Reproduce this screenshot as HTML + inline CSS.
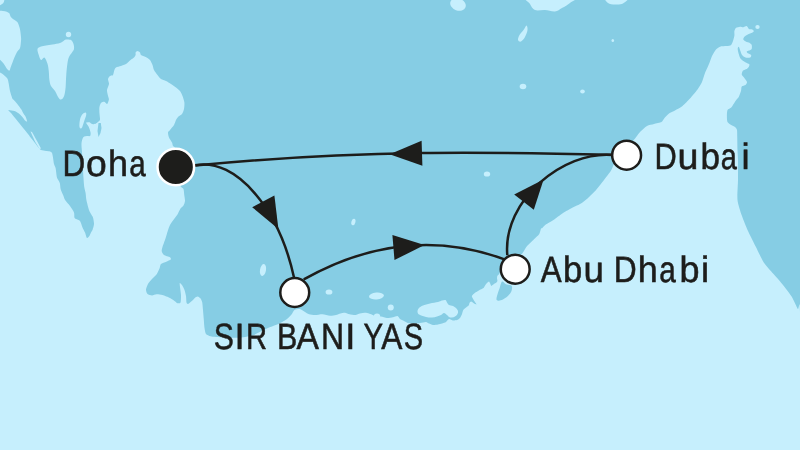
<!DOCTYPE html>
<html><head><meta charset="utf-8"><style>
html,body{margin:0;padding:0;background:#c6effd;}
body{width:800px;height:450px;overflow:hidden;}
svg{display:block;}
text{font-family:"Liberation Sans",sans-serif;font-size:36.5px;fill:#1d1d1b;stroke:#1d1d1b;stroke-width:0.55px;text-rendering:geometricPrecision;will-change:transform;}
</style></head><body>
<svg width="800" height="450" viewBox="0 0 800 450">
<rect width="800" height="450" fill="#86cde4"/>
<path fill="#c6effd" d="M-5 450 C-98.92 405.9 -5.58 116.04 -5 72 C-4.42 27.96 -1.02 72.15 0 72.5 C1.02 72.85 2.88 74.27 3.75 75 C4.62 75.73 6.92 77.73 7.5 78.75 C8.08 79.77 8.46 82.32 8.75 83.75 C9.04 85.18 9.56 89.25 10 91 C10.44 92.75 12.04 97.7 12.5 98.75 C12.96 99.8 13.41 99.47 13.9 100 C14.39 100.53 16.06 102.52 16.7 103.3 C17.34 104.08 18.82 105.92 19.4 106.7 C19.98 107.48 21.24 109.23 21.7 110 C22.16 110.77 22.84 112.52 23.3 113.3 C23.76 114.08 25.15 115.74 25.6 116.7 C26.05 117.66 27.27 121.06 27.2 121.5 C27.13 121.94 25.39 120.8 25 120.5 C24.61 120.2 24.48 119.61 23.9 118.9 C23.32 118.19 21.11 115.31 20 114.4 C18.89 113.49 15.77 111.61 14.4 111.1 C13.04 110.59 8.56 109.61 8.3 110 C8.04 110.39 11.22 113.23 12.2 114.4 C13.18 115.57 15.66 118.69 16.7 120 C17.74 121.31 20.06 124.3 21.1 125.6 C22.14 126.89 24.56 129.81 25.6 131.1 C26.64 132.39 28.97 135.41 30 136.7 C31.03 137.99 33.49 141.03 34.4 142.2 C35.31 143.37 37.03 145.79 37.8 146.7 C38.57 147.61 40.04 149.5 41 150 C41.96 150.5 44.95 150.82 46 151 C47.05 151.18 49.3 151.27 50 151.5 C50.7 151.73 51.65 152.3 52 153 C52.35 153.7 52.77 156.22 53 157.5 C53.23 158.78 53.7 162.78 54 164 C54.3 165.22 55.31 166.72 55.6 168 C55.89 169.28 56.33 173.83 56.5 175 C56.67 176.17 56.72 177.07 57.1 178 C57.48 178.93 59.38 181.68 59.8 183 C60.22 184.32 60.29 187.83 60.7 189.3 C61.11 190.77 62.79 194.35 63.3 195.6 C63.81 196.85 64.32 198.79 65.1 200 C65.88 201.21 68.96 204.54 70 206 C71.04 207.46 73.49 211.16 74 212.5 C74.51 213.84 74.17 216.74 74.4 217.5 C74.63 218.26 75.35 218.59 76 219 C76.65 219.41 79.24 220.01 80 221 C80.76 221.99 81.92 226.16 82.5 227.5 C83.08 228.84 84.47 231.28 85 232.5 C85.53 233.72 86.49 237.59 87 238 C87.51 238.41 88.93 236.64 89.4 236 C89.87 235.36 90.64 233.2 91 232.5 C91.36 231.8 92.15 230.99 92.5 230 C92.85 229.01 93.94 225.46 94 224 C94.06 222.54 93.35 218.67 93 217.5 C92.65 216.33 91.47 214.88 91 214 C90.53 213.12 89.54 211.63 89 210 C88.46 208.37 86.8 201.98 86.4 200 C86 198.02 85.86 194.55 85.6 193 C85.34 191.45 84.45 188.45 84.2 186.7 C83.95 184.95 83.67 180.53 83.5 178 C83.33 175.47 82.88 168.03 82.7 165 C82.53 161.97 82.14 154.22 82 152 C81.86 149.78 81.53 147.2 81.5 146 C81.47 144.8 81.49 142.73 81.7 141.7 C81.91 140.67 82.72 137.85 83.3 137.2 C83.88 136.55 85.92 136.23 86.7 136.1 C87.48 135.97 89.55 136.48 90 136.1 C90.45 135.72 90.73 133.84 90.6 132.8 C90.47 131.76 89.43 128.37 88.9 127.2 C88.38 126.03 86.04 123.38 86.1 122.8 C86.16 122.22 88.69 122.05 89.4 122.2 C90.11 122.35 91.48 123.92 92.2 124.1 C92.92 124.27 94.86 124 95.6 123.7 C96.33 123.4 97.99 122 98.5 121.5 C99.01 121 99.89 120.42 100 119.4 C100.11 118.39 99.47 114.22 99.4 112.8 C99.33 111.38 99.2 108.37 99.4 107.2 C99.6 106.03 100.52 103.44 101.1 102.8 C101.68 102.16 103.69 101.57 104.4 101.7 C105.11 101.83 106.67 104.17 107.2 103.9 C107.73 103.63 108.83 100.44 108.9 99.4 C108.97 98.36 108.02 96.1 107.8 95 C107.58 93.9 106.86 91.28 107 90 C107.14 88.72 108.88 85.28 109 84 C109.12 82.72 107.88 79.93 108 79 C108.12 78.07 109.42 76.47 110 76 C110.58 75.53 112.49 75.7 113 75 C113.51 74.3 114.05 70.88 114.4 70 C114.75 69.12 115.23 67.97 116 67.5 C116.77 67.03 119.83 66.41 121 66 C122.17 65.59 124.88 64.7 126 64 C127.12 63.3 129.67 60.76 130.6 60 C131.53 59.24 133.42 58.08 134 57.5 C134.58 56.92 135.41 55.58 135.6 55 C135.79 54.42 135.38 52.97 135.6 52.5 C135.82 52.03 136.99 51 137.5 51 C138.01 51 139.59 52.03 140 52.5 C140.41 52.97 140.35 54.48 141 55 C141.65 55.52 144.55 56.42 145.6 57 C146.65 57.58 149.19 59.07 150 60 C150.81 60.93 152.03 63.83 152.5 65 C152.97 66.17 153.42 68.83 154 70 C154.58 71.17 156.68 73.95 157.5 75 C158.32 76.05 160.01 78.3 161 79 C161.99 79.7 164.83 80.42 166 81 C167.17 81.58 169.83 83.24 171 84 C172.17 84.76 174.95 86.68 176 87.5 C177.05 88.32 179.24 90.01 180 91 C180.76 91.99 181.99 94.66 182.5 96 C183.01 97.34 184.22 100.98 184.4 102.5 C184.58 104.02 184.28 107.66 184 109 C183.72 110.34 182.7 113.07 182 114 C181.3 114.93 178.7 116.3 178 117 C177.3 117.7 176.47 119.07 176 120 C175.53 120.93 174.7 123.83 174 125 C173.3 126.17 170.7 129.12 170 130 C169.3 130.88 168.12 131.62 168 132.5 C167.88 133.38 168.53 136.33 169 137.5 C169.47 138.67 171.53 141.51 172 142.5 C172.47 143.49 172.65 145.36 173 146 C173.35 146.64 174.42 146.37 175 148 C175.58 149.63 177.53 156.85 178 160 C178.47 163.15 178.71 171.97 179 175 C179.29 178.03 179.97 184.37 180.5 186 C181.03 187.63 183.06 187.95 183.5 189 C183.94 190.05 184.07 193.6 184.25 195 C184.43 196.4 185.09 199.78 185 201 C184.91 202.22 184.03 204.62 183.5 205.5 C182.97 206.38 181.2 207.45 180.5 208.5 C179.8 209.55 178.38 213.1 177.5 214.5 C176.62 215.9 173.88 219.28 173 220.5 C172.12 221.72 170.61 223.78 170 225 C169.39 226.22 168.28 229.43 167.75 231 C167.22 232.57 166.11 236.63 165.5 238.5 C164.89 240.37 162.94 245.51 162.5 247 C162.06 248.49 161.57 250.32 161.75 251.25 C161.93 252.18 163.04 254.3 164 255 C164.96 255.7 169.21 256.73 170 257.25 C170.79 257.77 171.19 258.98 170.75 259.5 C170.31 260.02 167.39 261.23 166.25 261.75 C165.11 262.27 161.79 263.21 161 264 C160.21 264.79 160.03 267.27 159.5 268.5 C158.97 269.73 157.38 273.27 156.5 274.5 C155.62 275.73 152.96 277.95 152 279 C151.04 280.05 148.95 282.27 148.25 283.5 C147.55 284.73 146.09 288.27 146 289.5 C145.91 290.73 146.8 293.3 147.5 294 C148.2 294.7 150.95 295.46 152 295.5 C153.05 295.54 155.28 294.36 156.5 294.3 C157.72 294.24 160.93 294.57 162.5 295 C164.07 295.43 168.6 297.3 170 298 C171.4 298.7 173.62 300.39 174.5 301 C175.38 301.61 176.8 303.07 177.5 303.25 C178.2 303.43 180.09 303.46 180.5 302.5 C180.91 301.54 181.06 296.81 181 295 C180.94 293.19 180.15 288.4 180 287 C179.85 285.6 179.52 283.23 179.75 283 C179.98 282.77 181.45 284.18 182 285 C182.55 285.82 184.03 288.72 184.5 290 C184.97 291.28 185.77 294.54 186 296 C186.23 297.46 186.27 301.57 186.5 302.5 C186.73 303.43 187.59 304 188 304 C188.41 304 189.42 302.97 190 302.5 C190.58 302.03 192.45 300.52 193 300 C193.55 299.48 194.2 298.41 194.75 298 C195.3 297.59 197.05 296.41 197.75 296.5 C198.45 296.59 200.22 298.05 200.75 298.75 C201.28 299.45 201.99 301.19 202.25 302.5 C202.51 303.81 202.82 308.07 203 310 C203.18 311.93 203.57 316.9 203.75 319 C203.93 321.1 204.24 326.25 204.5 328 C204.76 329.75 205.3 333.04 206 334 C206.7 334.96 209.28 335.9 210.5 336.25 C211.72 336.6 213.35 336.82 216.5 337 C219.65 337.18 233.3 337.93 237.5 337.75 C241.7 337.57 249.35 336.46 252.5 335.5 C255.65 334.54 262.23 330.55 264.5 329.5 C266.77 328.45 270.25 327.2 272 326.5 C273.75 325.8 277.75 324.38 279.5 323.5 C281.25 322.62 285.6 320.05 287 319 C288.4 317.95 290.62 315.55 291.5 314.5 C292.38 313.45 293.62 310.64 294.5 310 C295.38 309.36 298.12 309 299 309 C299.88 309 301.3 309.65 302 310 C302.7 310.35 304.18 311.5 305 312 C305.82 312.5 307.83 313.9 309 314.25 C310.17 314.6 313.43 315 315 315 C316.57 315 320.75 314.16 322.5 314.25 C324.25 314.34 328.43 315.66 330 315.75 C331.57 315.84 334.77 315.26 336 315 C337.23 314.74 339.45 313.76 340.5 313.5 C341.55 313.24 343.95 312.66 345 312.75 C346.05 312.84 348.27 313.99 349.5 314.25 C350.73 314.51 354.27 315.09 355.5 315 C356.73 314.91 358.77 313.76 360 313.5 C361.23 313.24 364.77 312.69 366 312.75 C367.23 312.81 369.33 313.56 370.5 314 C371.67 314.44 374.77 316.21 376 316.5 C377.23 316.79 379.72 316.32 381 316.5 C382.28 316.68 385.6 317.91 387 318 C388.4 318.09 391.77 317.48 393 317.25 C394.23 317.02 396.68 315.8 397.5 316 C398.32 316.2 399.24 318.42 400 319 C400.76 319.58 403.07 320.53 404 321 C404.93 321.47 406.95 322.71 408 323 C409.05 323.29 411.6 323.5 413 323.5 C414.4 323.5 418.48 323.18 420 323 C421.52 322.82 424.95 321.94 426 322 C427.05 322.06 428.18 323.15 429 323.5 C429.82 323.85 431.95 324.88 433 325 C434.05 325.12 436.95 324.68 438 324.5 C439.05 324.32 441.07 323.79 442 323.5 C442.93 323.21 445.18 322.52 446 322 C446.82 321.48 448.18 319.18 449 319 C449.82 318.82 452.07 320.38 453 320.5 C453.93 320.62 456.18 320.29 457 320 C457.82 319.71 459.42 318.7 460 318 C460.58 317.3 461.62 314.93 462 314 C462.38 313.07 462.79 310.78 463.3 310 C463.81 309.22 465.76 307.85 466.4 307.3 C467.04 306.75 468.44 305.8 468.8 305.3 C469.16 304.8 469.23 303.44 469.5 303 C469.77 302.56 470.65 301.5 471.1 301.5 C471.56 301.5 472.77 302.65 473.4 303 C474.03 303.35 476.31 304.62 476.5 304.5 C476.69 304.38 475.44 302.74 475 302 C474.56 301.26 473.06 298.91 472.7 298.2 C472.34 297.49 471.63 296.53 471.9 295.9 C472.17 295.27 474.18 293.44 475 292.8 C475.82 292.16 477.91 290.95 478.9 290.4 C479.89 289.85 482.78 288.67 483.5 288.1 C484.22 287.53 484.67 286.12 485.1 285.5 C485.53 284.88 486.75 283.28 487.2 282.8 C487.65 282.32 488.64 281.29 489 281.4 C489.36 281.5 490.04 283.18 490.3 283.7 C490.56 284.22 490.93 285.75 491.2 285.9 C491.47 286.05 492.24 285.26 492.6 285 C492.96 284.74 493.89 283.96 494.3 283.7 C494.71 283.44 495.74 283.12 496.1 282.8 C496.46 282.49 497.29 281.52 497.4 281 C497.5 280.48 497 278.92 497 278.3 C497 277.68 497.14 276.21 497.4 275.7 C497.66 275.19 498.66 274.8 499.2 273.9 C499.74 273 500.97 269.86 502 268 C503.03 266.14 506.48 259.4 508 258 C509.52 256.6 513.41 256.43 515 256 C516.59 255.57 520.21 255.43 521.6 254.3 C522.99 253.17 525.45 248.06 526.9 246.3 C528.35 244.54 532.55 240.65 534 239.2 C535.45 237.75 538.48 235.14 539.3 233.9 C540.12 232.66 540.68 229.26 541 228.6 C541.32 227.94 541.48 228.7 542 228.25 C542.52 227.8 544.07 225.77 545.5 224.75 C546.93 223.73 552.41 220.72 554.25 219.5 C556.09 218.28 559.41 215.47 561.25 214.25 C563.09 213.03 567.75 210.22 570 209 C572.25 207.78 578.46 204.97 580.5 203.75 C582.54 202.53 585.66 200.13 587.5 198.5 C589.34 196.87 594.41 191.79 596.25 189.75 C598.09 187.71 601.82 182.84 603.25 181 C604.68 179.16 607.48 175.43 608.5 174 C609.52 172.57 610.66 171.55 612 168.75 C613.34 165.95 617.67 153.12 620 150 C622.33 146.88 629.67 144.1 632 142 C634.33 139.9 638.25 133.87 640 132 C641.75 130.13 645.37 126.93 647 126 C648.63 125.07 652.31 124.47 654 124 C655.69 123.53 660.27 122.7 661.5 122 C662.73 121.3 663.62 118.99 664.5 118 C665.38 117.01 667.77 114.38 669 113.5 C670.23 112.62 673.42 111.38 675 110.5 C676.58 109.62 680.75 107.4 682.5 106 C684.25 104.6 688.25 100.42 690 98.5 C691.75 96.58 696.1 91.42 697.5 89.5 C698.9 87.58 701.12 83.92 702 82 C702.88 80.08 704.18 75.1 705 73 C705.82 70.9 708.18 65.98 709 64 C709.82 62.02 711.18 57.69 712 56 C712.82 54.31 715.07 50.59 716 49.5 C716.93 48.41 718.75 47.1 720 46.7 C721.25 46.3 725.41 46.3 726.7 46.1 C728 45.9 730.33 45.71 731.1 45 C731.87 44.29 732.91 41.1 733.3 40 C733.68 38.9 734.27 36.64 734.4 35.6 C734.53 34.56 734.2 32.01 734.4 31.1 C734.6 30.19 735.45 28.31 736.1 27.8 C736.75 27.29 739.16 26.77 740 26.7 C740.84 26.63 742.52 27.27 743.3 27.2 C744.08 27.13 746.05 25.9 746.7 26.1 C747.35 26.3 748.26 28.52 748.9 28.9 C749.54 29.28 751.62 29.14 752.2 29.4 C752.78 29.66 753.9 30.7 753.9 31.1 C753.9 31.5 752.91 32.41 752.2 32.8 C751.49 33.18 748.71 33.95 747.8 34.4 C746.89 34.85 744.92 36.12 744.4 36.7 C743.88 37.28 743.1 38.82 743.3 39.4 C743.5 39.98 745.39 41.3 746.1 41.7 C746.81 42.1 748.75 42.41 749.4 42.8 C750.05 43.18 751.43 44.29 751.7 45 C751.97 45.71 752.03 48.25 751.7 48.9 C751.37 49.55 749.48 50.27 748.9 50.6 C748.32 50.93 746.83 51.39 746.7 51.7 C746.57 52.02 747.29 52.91 747.8 53.3 C748.31 53.68 750.77 54.55 751.1 55 C751.43 55.45 751.06 56.87 750.6 57.2 C750.14 57.53 747.98 57.86 747.2 57.8 C746.42 57.74 744.54 57.1 743.9 56.7 C743.26 56.3 742.11 55.06 741.7 54.4 C741.29 53.73 740.69 51.8 740.4 51 C740.11 50.2 739.45 48 739.2 47.5 C738.96 47 738.47 46.53 738.3 46.7 C738.12 46.88 737.67 48.21 737.7 49 C737.74 49.79 738.3 52.41 738.6 53.5 C738.9 54.59 739.75 57.41 740.3 58.3 C740.85 59.19 742.49 60.52 743.3 61.1 C744.11 61.68 746.49 62.91 747.2 63.3 C747.91 63.68 749.2 64 749.4 64.4 C749.6 64.8 749.21 66.17 748.9 66.7 C748.59 67.23 747.39 68.46 746.7 68.9 C746.01 69.34 743.58 69.85 743 70.5 C742.42 71.15 741.63 73.68 741.75 74.5 C741.87 75.32 743.39 76.62 744 77.5 C744.61 78.38 746.83 81.12 747 82 C747.17 82.88 746.11 84.47 745.5 85 C744.89 85.53 742.27 85.8 741.75 86.5 C741.23 87.2 741.35 89.78 741 91 C740.65 92.22 739.3 95.95 738.75 97 C738.2 98.05 736.83 99.21 736.25 100 C735.67 100.79 734.33 102.88 733.75 103.75 C733.17 104.62 731.98 106.77 731.25 107.5 C730.52 108.23 728.01 109.01 727.5 110 C726.99 110.99 726.9 114.6 726.9 116 C726.9 117.4 726.99 120.95 727.5 122 C728.01 123.05 730.38 124.42 731.25 125 C732.12 125.58 734.33 126.42 735 127 C735.67 127.58 736.74 128.78 737 130 C737.26 131.22 737.19 135.17 737.25 137.5 C737.31 139.83 737.41 147.38 737.5 150 C737.59 152.62 737.94 156.5 738 160 C738.06 163.5 738.06 175.33 738 180 C737.94 184.67 737.06 195.86 737.5 200 C737.94 204.14 740.57 211.88 741.8 215.5 C743.02 219.12 746.37 227.36 748 231 C749.63 234.64 753.98 243.06 755.8 246.7 C757.62 250.34 761.79 259.29 763.6 262.2 C765.41 265.11 769.13 269.06 771.3 271.6 C773.47 274.14 779.83 281.1 782.2 284 C784.57 286.9 789.78 293.58 791.6 296.5 C793.42 299.42 796.82 307.19 797.8 309 C798.78 310.81 799.74 295.55 800 312 C800.26 328.45 893.92 433.9 800 450 C706.08 466.1 88.92 494.1 -5 450Z"/>
<path fill="#c6effd" d="M-6 10.6 C-5.33 3.05 -3.5 10.63 -2 10.7 C-0.5 10.77 1.55 10.83 3 11 C4.45 11.17 5.65 11.32 6.7 11.7 C7.75 12.08 8.63 12.47 9.3 13.3 C9.97 14.13 10.03 15.7 10.7 16.7 C11.37 17.7 12.2 18.42 13.3 19.3 C14.4 20.18 16.3 20.77 17.3 22 C18.3 23.23 18.8 25.2 19.3 26.7 C19.8 28.2 20.02 29.28 20.3 31 C20.58 32.72 20.88 35.33 21 37 C21.12 38.67 21.17 39.17 21 41 C20.83 42.83 20.67 46.17 20 48 C19.33 49.83 17.93 50.42 17 52 C16.07 53.58 15.15 55.75 14.4 57.5 C13.65 59.25 13.13 60.83 12.5 62.5 C11.87 64.17 11.12 66.15 10.6 67.5 C10.08 68.85 10.02 70.39 9.4 70.6 C8.78 70.81 7.84 69.89 6.9 68.75 C5.96 67.61 5.23 65.54 3.75 63.75 C2.27 61.96 -0.38 59.29 -2 58 C-3.62 56.71 -5.33 63.9 -6 56 C-6.67 48.1 -6.67 18.15 -6 10.6Z"/>
<path fill="#c6effd" d="M-2 -2 C-1 -3.17 3.07 -2.77 4 -2 C4.93 -1.23 4.1 1.47 3.6 2.6 C3.1 3.73 1.93 4.4 1 4.8 C0.07 5.2 -1.5 6.13 -2 5 C-2.5 3.87 -3 -0.83 -2 -2Z"/>
<path fill="#c6effd" d="M37.5 49 C37.88 47.58 39.58 47.08 41 46.5 C42.42 45.92 44.08 45.83 46 45.5 C47.92 45.17 50.17 44.92 52.5 44.5 C54.83 44.08 58.17 43.58 60 43 C61.83 42.42 62.5 41.58 63.5 41 C64.5 40.42 64.75 39.67 66 39.5 C67.25 39.33 69.75 39.25 71 40 C72.25 40.75 73 42.5 73.5 44 C74 45.5 74.25 47.58 74 49 C73.75 50.42 72.83 51.17 72 52.5 C71.17 53.83 69.75 55.25 69 57 C68.25 58.75 67.96 60 67.5 63 C67.04 66 66.57 70.92 66.25 75 C65.93 79.08 65.91 84.17 65.6 87.5 C65.29 90.83 64.92 93.12 64.4 95 C63.88 96.88 63.23 98.02 62.5 98.75 C61.77 99.48 60.83 99.86 60 99.4 C59.17 98.94 58.33 97.4 57.5 96 C56.67 94.6 56.08 92.67 55 91 C53.92 89.33 51.93 87.83 51 86 C50.07 84.17 49.77 82.5 49.4 80 C49.02 77.5 49.07 73.71 48.75 71 C48.43 68.29 48.23 66 47.5 63.75 C46.77 61.5 45.48 58.12 44.4 57.5 C43.32 56.88 41.94 60.42 41 60 C40.06 59.58 39.33 56.83 38.75 55 C38.17 53.17 37.12 50.42 37.5 49Z"/>
<path fill="#c6effd" d="M30.5 131.5 L32 132 L37 141 L41 148.5 L39.5 149 L35 141.5Z"/>
<path fill="#c6effd" d="M85.6 112.4 C86.27 112.5 86.4 113.63 86.2 115 C86 116.37 85.07 118.57 84.4 120.6 C83.73 122.63 82.87 125.9 82.2 127.2 C81.53 128.5 80.87 128.58 80.4 128.4 C79.93 128.22 79.47 127.6 79.4 126.1 C79.33 124.6 79.53 121.35 80 119.4 C80.47 117.45 81.27 115.57 82.2 114.4 C83.13 113.23 84.93 112.3 85.6 112.4Z"/>
<path fill="#c6effd" d="M528 -3 C520.67 -1.83 528.83 1.83 530 4 C531.17 6.17 532.5 9 535 10 C537.5 11 541.67 9.75 545 10 C548.33 10.25 552.17 11.83 555 11.5 C557.83 11.17 559.5 9.42 562 8 C564.5 6.58 568 4.83 570 3 C572 1.17 581 -2 574 -3 C567 -4 535.33 -4.17 528 -3Z"/>
<path fill="#c6effd" d="M606 -3 C602.67 -2 606.5 1.75 608 3 C609.5 4.25 612.5 4.42 615 4.5 C617.5 4.58 620.83 4.75 623 3.5 C625.17 2.25 630.83 -1.92 628 -3 C625.17 -4.08 609.33 -4 606 -3Z"/>
<path fill="#c6effd" d="M526.5 25.5 C527.17 25.5 527.75 28.08 527.5 30 C527.25 31.92 526.08 35.08 525 37 C523.92 38.92 522.17 41 521 41.5 C519.83 42 518.25 41.08 518 40 C517.75 38.92 518.58 36.67 519.5 35 C520.42 33.33 522.33 31.58 523.5 30 C524.67 28.42 525.83 25.5 526.5 25.5Z"/>
<path fill="#c6effd" d="M417.5 311 C417.67 310.08 418.08 308.92 419 308 C419.92 307.08 421.17 306.25 423 305.5 C424.83 304.75 427.5 304.08 430 303.5 C432.5 302.92 436 302.5 438 302 C440 301.5 440.75 300.83 442 300.5 C443.25 300.17 444.67 299.67 445.5 300 C446.33 300.33 446.42 301.67 447 302.5 C447.58 303.33 448 304.42 449 305 C450 305.58 451.83 305.5 453 306 C454.17 306.5 455.17 307.17 456 308 C456.83 308.83 457.75 310 458 311 C458.25 312 458 313.08 457.5 314 C457 314.92 455.92 315.92 455 316.5 C454.08 317.08 453 317.42 452 317.5 C451 317.58 449.83 317.42 449 317 C448.17 316.58 447.83 315.67 447 315 C446.17 314.33 445 313 444 313 C443 313 442.17 314.42 441 315 C439.83 315.58 438.5 316.08 437 316.5 C435.5 316.92 433.83 317.42 432 317.5 C430.17 317.58 428 317.42 426 317 C424 316.58 421.33 315.58 420 315 C418.67 314.42 418.42 314.17 418 313.5 C417.58 312.83 417.33 311.92 417.5 311Z"/>
<ellipse fill="#c6effd" cx="68.5" cy="34.5" rx="2.7" ry="2.7" transform="rotate(0 68.5 34.5)"/>
<ellipse fill="#c6effd" cx="458" cy="4.5" rx="8" ry="6" transform="rotate(20 458 4.5)"/>
<ellipse fill="#c6effd" cx="523" cy="86.5" rx="3.3" ry="2.8" transform="rotate(0 523 86.5)"/>
<ellipse fill="#c6effd" cx="582.5" cy="91.5" rx="2.3" ry="2" transform="rotate(0 582.5 91.5)"/>
<ellipse fill="#c6effd" cx="487" cy="174" rx="3.2" ry="2.6" transform="rotate(0 487 174)"/>
<ellipse fill="#c6effd" cx="353.4" cy="222" rx="2" ry="3.3" transform="rotate(15 353.4 222)"/>
<ellipse fill="#c6effd" cx="263" cy="270" rx="3" ry="6" transform="rotate(10 263 270)"/>
<ellipse fill="#c6effd" cx="329" cy="292" rx="3.4" ry="2.6" transform="rotate(0 329 292)"/>
<ellipse fill="#c6effd" cx="376.5" cy="296" rx="7.5" ry="3.4" transform="rotate(-5 376.5 296)"/>
<ellipse fill="#c6effd" cx="390.75" cy="307.5" rx="3" ry="3" transform="rotate(0 390.75 307.5)"/>
<ellipse fill="#c6effd" cx="377" cy="316.5" rx="3.2" ry="3" transform="rotate(0 377 316.5)"/>
<ellipse fill="#c6effd" cx="612.8" cy="40.5" rx="1.3" ry="1.6" transform="rotate(0 612.8 40.5)"/>
<ellipse fill="#c6effd" cx="757.5" cy="27" rx="2.2" ry="2" transform="rotate(0 757.5 27)"/>
<path fill="#86cde4" d="M98.5 123 L100.8 123 L101.5 128 L100.5 133 L98.5 137 L97.5 131Z"/>
<path fill="#86cde4" d="M502.3 281.5 C503.18 281.43 504.42 283.55 505.9 284.2 C507.38 284.85 510.17 284.75 511.2 285.4 C512.23 286.05 512.1 287.05 512.1 288.1 C512.1 289.15 511.78 290.52 511.2 291.7 C510.62 292.88 509.78 294.02 508.6 295.2 C507.42 296.38 505.58 297.9 504.1 298.8 C502.62 299.7 500.95 300.45 499.7 300.6 C498.45 300.75 497.05 300.45 496.6 299.7 C496.15 298.95 496.72 297.43 497 296.1 C497.28 294.77 497.85 293.03 498.3 291.7 C498.75 290.37 499.32 289.28 499.7 288.1 C500.08 286.92 500.17 285.7 500.6 284.6 C501.03 283.5 501.42 281.57 502.3 281.5Z"/>
<path fill="none" stroke="#1d1d1b" stroke-width="2.5" d="M195 165.6 C359.7 149.3 492.1 152 611.3 154.7"/>
<path fill="none" stroke="#1d1d1b" stroke-width="2.5" d="M195 165.3 C237 157 279.5 211 294 277.5"/>
<path fill="none" stroke="#1d1d1b" stroke-width="2.5" d="M303.75 279.4 C386.9 232.9 454.3 240.7 504.5 259.4"/>
<path fill="none" stroke="#1d1d1b" stroke-width="2.5" d="M507.3 255.1 C502.6 200.4 563 150.7 612.5 154.9"/>
<path fill="#1d1d1b" d="M389.6 154.3 L421.6 140.75 L422.4 165.8Z"/>
<path fill="#1d1d1b" d="M278.4 229 L252.2 207.2 L274.4 195.4Z"/>
<path fill="#1d1d1b" d="M424.5 244.9 L392.4 235 L394.5 260.1Z"/>
<path fill="#1d1d1b" d="M543.6 179.4 L514.2 194.4 L533.8 209.7Z"/>
<circle cx="175.8" cy="167" r="18.3" fill="#1d1d1b" stroke="#fff" stroke-width="2.5"/>
<circle cx="626.6" cy="155.2" r="14.45" fill="#fff" stroke="#1d1d1b" stroke-width="2.5"/>
<circle cx="515.2" cy="269.2" r="14.45" fill="#fff" stroke="#1d1d1b" stroke-width="2.5"/>
<circle cx="294.75" cy="292.5" r="14.45" fill="#fff" stroke="#1d1d1b" stroke-width="2.5"/>
<text y="176.2"><tspan x="62.47" textLength="22.74" lengthAdjust="spacingAndGlyphs">D</tspan><tspan x="86.03" textLength="20.73" lengthAdjust="spacingAndGlyphs">o</tspan><tspan x="107.9" textLength="20.04" lengthAdjust="spacingAndGlyphs">h</tspan><tspan x="129.14" textLength="16.46" lengthAdjust="spacingAndGlyphs">a</tspan></text>
<text y="168.8"><tspan x="654.52" textLength="22.25" lengthAdjust="spacingAndGlyphs">D</tspan><tspan x="677.55" textLength="20.95" lengthAdjust="spacingAndGlyphs">u</tspan><tspan x="700.44" textLength="19.54" lengthAdjust="spacingAndGlyphs">b</tspan><tspan x="720.87" textLength="16.13" lengthAdjust="spacingAndGlyphs">a</tspan><tspan x="741.45" textLength="8.11" lengthAdjust="spacingAndGlyphs">i</tspan></text>
<text y="282.3"><tspan x="540.74" textLength="20.92" lengthAdjust="spacingAndGlyphs">A</tspan><tspan x="562.96" textLength="19.29" lengthAdjust="spacingAndGlyphs">b</tspan><tspan x="583.62" textLength="20.42" lengthAdjust="spacingAndGlyphs">u</tspan> <tspan x="613.8" textLength="22.92" lengthAdjust="spacingAndGlyphs">D</tspan><tspan x="637.7" textLength="20.04" lengthAdjust="spacingAndGlyphs">h</tspan><tspan x="659.23" textLength="16.57" lengthAdjust="spacingAndGlyphs">a</tspan><tspan x="679.48" textLength="20.03" lengthAdjust="spacingAndGlyphs">b</tspan><tspan x="701.1" textLength="8.11" lengthAdjust="spacingAndGlyphs">i</tspan></text>
<text y="348.8"><tspan x="213.63" textLength="20.16" lengthAdjust="spacingAndGlyphs">S</tspan><tspan x="234.53" textLength="10.14" lengthAdjust="spacingAndGlyphs">I</tspan><tspan x="245.91" textLength="21.04" lengthAdjust="spacingAndGlyphs">R</tspan> <tspan x="277" textLength="20.3" lengthAdjust="spacingAndGlyphs">B</tspan><tspan x="296.53" textLength="22.43" lengthAdjust="spacingAndGlyphs">A</tspan><tspan x="321.07" textLength="23.14" lengthAdjust="spacingAndGlyphs">N</tspan><tspan x="345.13" textLength="10.14" lengthAdjust="spacingAndGlyphs">I</tspan> <tspan x="363.55" textLength="19.59" lengthAdjust="spacingAndGlyphs">Y</tspan><tspan x="381.34" textLength="21.12" lengthAdjust="spacingAndGlyphs">A</tspan><tspan x="403.68" textLength="19.35" lengthAdjust="spacingAndGlyphs">S</tspan></text>
</svg>
</body></html>
